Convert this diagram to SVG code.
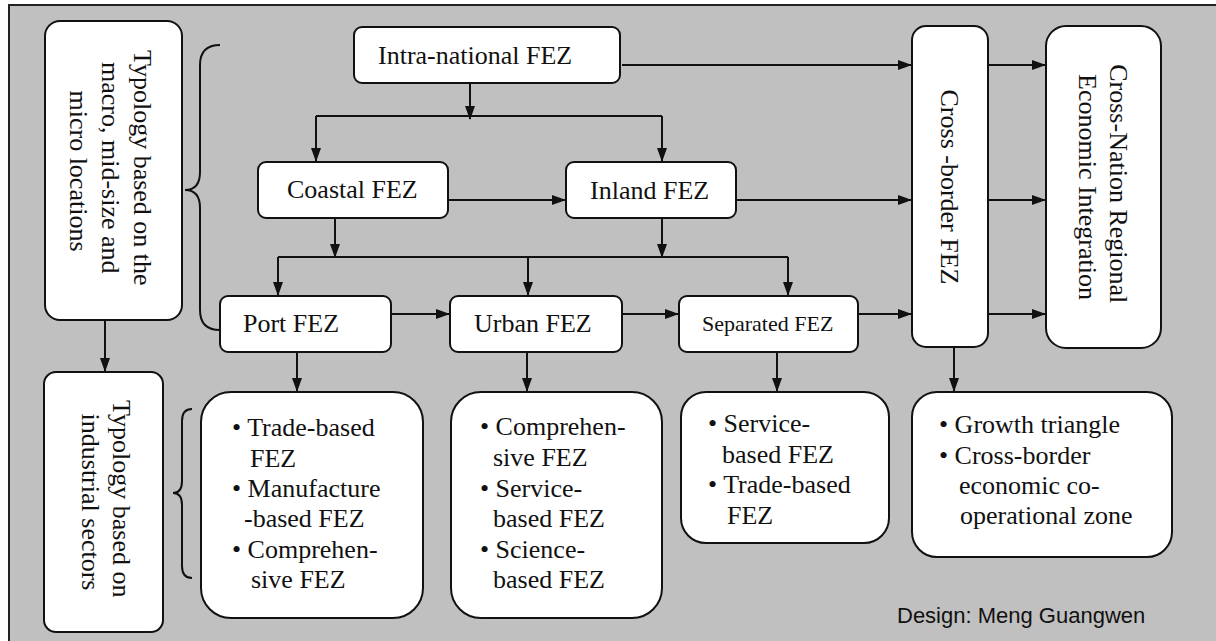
<svg xmlns="http://www.w3.org/2000/svg" width="1216" height="641" viewBox="0 0 1216 641">
  <style>
    .box { fill: #ffffff; stroke: #111111; stroke-width: 2; }
    .lbl { font-family: "Liberation Serif", "Times New Roman", serif; font-size: 26px; fill: #111111; }
    .small { font-size: 22px; }
    .wire { fill: none; stroke: #111111; stroke-width: 2; }
    .arrow { fill: none; stroke: #111111; stroke-width: 2; marker-end: url(#head); }
    .credit { font-family: "Liberation Sans", Arial, sans-serif; font-size: 22px; fill: #111111; }
  </style>
  <defs>
    <marker id="head" markerUnits="userSpaceOnUse" markerWidth="14" markerHeight="10" refX="13" refY="5" orient="auto">
      <path d="M0,0 L14,5 L0,10 z" fill="#111111"/>
    </marker>
  </defs>

  <!-- page and frame -->
  <rect x="0" y="0" width="1216" height="641" fill="#ffffff"/>
  <rect x="9" y="5" width="1230" height="660" fill="#c0c0c0" stroke="#222222" stroke-width="2"/>

  <!-- connectors -->
  <g id="connectors">
    <path class="arrow" d="M622,65 H911"/>
    <path class="arrow" d="M470,83 V119"/>
    <path class="wire" d="M316,116 H662"/>
    <path class="arrow" d="M316,116 V161"/>
    <path class="arrow" d="M662,116 V161"/>
    <path class="arrow" d="M449,200 H565"/>
    <path class="arrow" d="M737,200 H911"/>
    <path class="arrow" d="M335,218 V257"/>
    <path class="arrow" d="M662,218 V257"/>
    <path class="wire" d="M278,257 H788"/>
    <path class="arrow" d="M278,257 V295"/>
    <path class="arrow" d="M528,257 V295"/>
    <path class="arrow" d="M788,257 V295"/>
    <path class="arrow" d="M392,314 H449"/>
    <path class="arrow" d="M623,314 H678"/>
    <path class="arrow" d="M859,314 H911"/>
    <path class="arrow" d="M989,65 H1045"/>
    <path class="arrow" d="M989,200 H1045"/>
    <path class="arrow" d="M989,314 H1045"/>
    <path class="arrow" d="M105,320 V371"/>
    <path class="arrow" d="M297,352 V391"/>
    <path class="arrow" d="M527,352 V391"/>
    <path class="arrow" d="M777,352 V391"/>
    <path class="arrow" d="M954,348 V391"/>
    <!-- curly braces -->
    <path class="wire" d="M220,45 Q200,45 200,65 L200,172 Q200,190 185,190 Q200,190 200,208 L200,310 Q200,330 220,330"/>
    <path class="wire" d="M192,409 Q182,409 182,421 L182,481 Q182,493 173,493 Q182,493 182,505 L182,566 Q182,578 192,578"/>
  </g>

  <!-- typology by location -->
  <g id="typology-location">
    <rect class="box" x="45" y="21" width="137" height="299" rx="15"/>
    <text class="lbl" transform="translate(134,171) rotate(90)" text-anchor="middle">
      <tspan x="0" y="0">Typology based on the</tspan>
      <tspan x="0" dy="32">macro, mid-size and</tspan>
      <tspan x="0" dy="32">micro locations</tspan>
    </text>
  </g>

  <!-- typology by sector -->
  <g id="typology-sector">
    <rect class="box" x="44" y="372" width="119" height="260" rx="12"/>
    <text class="lbl" transform="translate(113,502) rotate(90)" text-anchor="middle">
      <tspan x="0" y="0">Typology based on</tspan>
      <tspan x="0" dy="31">industrial sectors</tspan>
    </text>
  </g>

  <g id="intra-national">
    <rect class="box" x="354" y="27" width="266" height="56" rx="8"/>
    <text class="lbl" x="378" y="64">Intra-national FEZ</text>
  </g>

  <g id="coastal">
    <rect class="box" x="258" y="162" width="190" height="56" rx="8"/>
    <text class="lbl" x="287" y="198">Coastal FEZ</text>
  </g>

  <g id="inland">
    <rect class="box" x="566" y="162" width="170" height="56" rx="8"/>
    <text class="lbl" x="590" y="199">Inland FEZ</text>
  </g>

  <g id="port">
    <rect class="box" x="220" y="296" width="171" height="56" rx="8"/>
    <text class="lbl" x="243" y="332">Port FEZ</text>
  </g>

  <g id="urban">
    <rect class="box" x="450" y="296" width="172" height="56" rx="8"/>
    <text class="lbl" x="474" y="332">Urban FEZ</text>
  </g>

  <g id="separated">
    <rect class="box" x="679" y="296" width="179" height="56" rx="8"/>
    <text class="lbl small" x="702" y="331">Separated FEZ</text>
  </g>

  <g id="cross-border">
    <rect class="box" x="912" y="26" width="76" height="321" rx="14"/>
    <text class="lbl" transform="translate(941,187) rotate(90)" text-anchor="middle">Cross -border FEZ</text>
  </g>

  <g id="cross-nation">
    <rect class="box" x="1046" y="26" width="115" height="322" rx="20"/>
    <text class="lbl" transform="translate(1110,187) rotate(90)" text-anchor="middle">
      <tspan x="0" y="0">Cross-Nation Regional</tspan>
      <tspan x="0" dy="31">Economic Integration</tspan>
    </text>
  </g>

  <g id="port-types">
    <rect class="box" x="201" y="392" width="222" height="226" rx="30"/>
    <text class="lbl" x="232" y="436">• Trade-based</text>
    <text class="lbl" x="250" y="467">FEZ</text>
    <text class="lbl" x="232" y="497">• Manufacture</text>
    <text class="lbl" x="244" y="527">-based FEZ</text>
    <text class="lbl" x="232" y="558">• Comprehen-</text>
    <text class="lbl" x="251" y="588">sive FEZ</text>
  </g>

  <g id="urban-types">
    <rect class="box" x="451" y="392" width="211" height="226" rx="30"/>
    <text class="lbl" x="480" y="435">• Comprehen-</text>
    <text class="lbl" x="493" y="466">sive FEZ</text>
    <text class="lbl" x="480" y="497">• Service-</text>
    <text class="lbl" x="493" y="527">based FEZ</text>
    <text class="lbl" x="480" y="558">• Science-</text>
    <text class="lbl" x="493" y="588">based FEZ</text>
  </g>

  <g id="separated-types">
    <rect class="box" x="681" y="392" width="208" height="151" rx="25"/>
    <text class="lbl" x="708" y="432">• Service-</text>
    <text class="lbl" x="722" y="463">based FEZ</text>
    <text class="lbl" x="708" y="493">• Trade-based</text>
    <text class="lbl" x="727" y="524">FEZ</text>
  </g>

  <g id="cross-border-types">
    <rect class="box" x="912" y="392" width="260" height="165" rx="25"/>
    <text class="lbl" x="939" y="433">• Growth triangle</text>
    <text class="lbl" x="939" y="464">• Cross-border</text>
    <text class="lbl" x="959" y="494">economic co-</text>
    <text class="lbl" x="960" y="524">operational zone</text>
  </g>

  <text class="credit" x="897" y="623">Design: Meng Guangwen</text>
</svg>
